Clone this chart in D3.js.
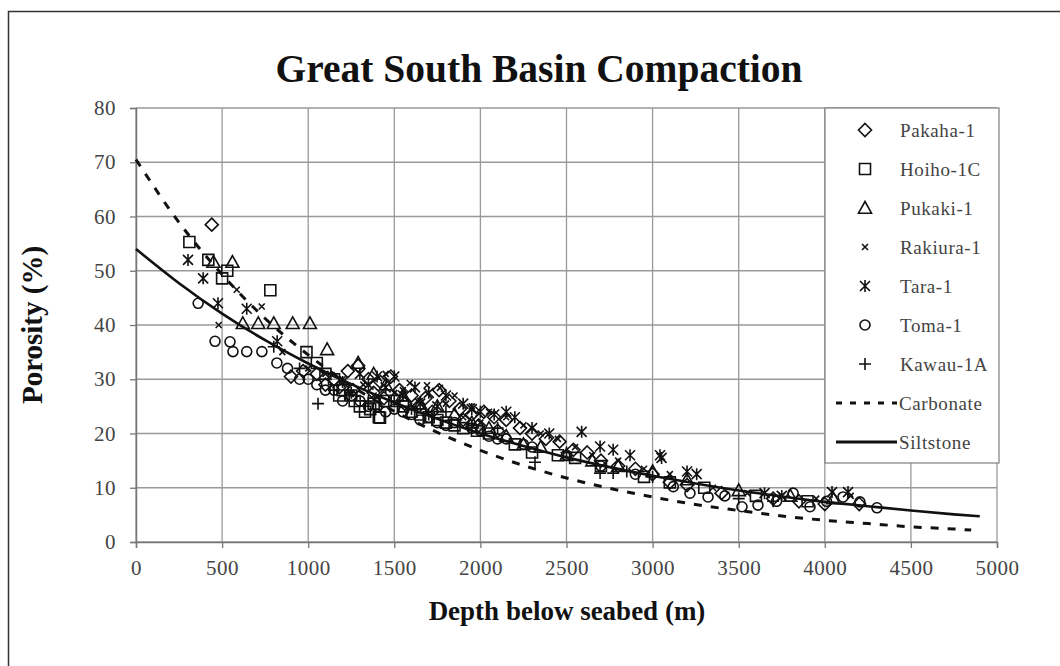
<!DOCTYPE html>
<html>
<head>
<meta charset="utf-8">
<script src="https://cdn.jsdelivr.net/npm/d3@7"></script>
<style>
  body { margin: 0; background: #fff; }
  svg text { font-family: "Liberation Serif", "Times New Roman", Times, serif; }
</style>
</head>
<body>
<script>
// values: [depth (m), porosity (%)]
const pakaha = [[440,58.5],[900,30.5],[970,31.5],[1050,31],[1100,29],[1150,30],[1180,28.5],[1230,31.5],[1260,28],[1290,32.5],[1350,30],
  [1380,27.5],[1420,29.5],[1440,26.5],[1480,30.5],[1530,28],[1560,25.5],[1600,27],[1640,25],[1680,26.5],[1720,24],[1760,28],[1820,26],
  [1880,24.5],[1900,22.5],[1950,23.5],[1990,21.5],[2020,24],[2080,23],[2100,20.5],[2150,22.5],[2230,21],[2300,20],[2380,19],[2460,18.5],
  [2540,17],[2620,16.5],[2700,15],[2800,14],[2900,13.5],[3000,12.5],[3100,11],[3200,10.5],[3400,9],[3700,8],[3850,7.5],[4000,7],[4200,7]];
const hoiho = [[310,55.3],[420,52],[500,48.6],[530,50],[780,46.4],[990,35],[1050,33],[1100,31],[1150,30],[1180,27],[1200,28],[1250,27],
  [1270,26],[1300,25],[1330,24],[1360,24.5],[1380,25.5],[1410,23],[1417,22.9],[1450,26],[1500,26],[1550,25],[1600,24],[1650,23.5],
  [1700,23],[1750,22.5],[1800,22],[1850,21.5],[1900,21],[1980,20.5],[2050,20],[2200,18],[2300,16.5],[2450,16],[2550,15.5],[2700,14],
  [2950,12],[3100,11],[3300,10],[3600,8.5],[3900,7.5]];
const pukaki = [[450,51.6],[560,51.6],[620,40.3],[710,40.3],[800,40.3],[910,40.3],[1010,40.3],[1110,35.5],[1290,33],[1380,31],
  [1450,29],[1550,27],[1650,25.5],[1750,25],[1850,23.5],[1950,22],[2050,21],[2150,19.5],[2250,18],[2350,17.5],[2500,16],
  [2650,15],[2800,14],[3000,13],[3200,11.5],[3500,9.5],[3800,8.5],[4050,8]];
const rakiura = [[480,40],[585,46.5],[730,43.4],[850,35],[1000,32],[1100,31],[1200,30],[1250,27.5],[1320,29],[1380,27],[1450,31],
  [1500,27.5],[1550,28],[1590,29.3],[1650,26],[1690,28.9],[1765,28.4],[1800,25.5],[1850,27],[1900,23],[1950,25],[2000,22],[2050,24],
  [2150,23],[2250,21.5],[2350,20],[2450,19],[2550,17.5],[2650,16],[2800,15],[2950,13.5],[3100,12.5],[3350,10],[3550,9],[3750,8.5],
  [3950,8],[4150,8.5]];
const tara = [[302,52],[390,48.6],[476,44],[643,43],[820,37],[1200,29.5],[1300,31],[1350,29],[1400,30.5],[1450,28.5],[1500,30.5],
  [1550,27],[1620,28.5],[1650,25.5],[1700,27.5],[1750,25],[1800,27],[1900,25.5],[1950,24.5],[2000,24],[2080,23.5],[2150,24],[2200,23],
  [2300,21],[2400,20],[2588,20.3],[2695,17.6],[2771,17],[2869,16],[3043,16],[3052,15.5],[3200,13],[3256,12.5],[3650,9],[3750,8.5],
  [4042,9.2],[4135,9.2]];
const toma = [[361,44],[459,37],[546,36.9],[563,35.1],[643,35.1],[731,35.1],[818,33],[880,32],[950,30],[1000,30],[1050,29],[1100,28],
  [1150,28],[1200,26],[1250,27],[1300,26],[1350,25],[1400,25],[1450,24],[1500,24.5],[1550,24],[1600,23.5],[1650,22.5],[1700,23],
  [1750,22],[1800,21.5],[1850,22],[1950,21],[2000,20.5],[2050,19.5],[2100,19],[2150,19],[2250,18],[2300,17.5],[2500,16],[2700,14],
  [2900,12.5],[3120,10.2],[3217,9],[3322,8.3],[3420,8.5],[3519,6.5],[3612,6.8],[3720,7.5],[3816,9],[3914,6.5],[4010,7.5],[4106,8.3],
  [4204,7.4],[4303,6.3]];
const kawau = [[800,36],[950,32],[1057,25.5],[1150,28],[1250,27.5],[1350,26],[1500,26],[1600,24.5],[1700,23.5],[1800,24],[1950,21.5],
  [2100,21],[2317,14.7],[2500,16.5],[2695,12.7],[2771,12.7],[2850,13],[3000,12],[3500,8],[3700,7.5]];

// trend lines, read at every 250 m
const carbonateDepth = [0,250,500,750,1000,1250,1500,1750,2000,2250,2500,2750,3000,3250,3500,3750,4000,4250,4500,4750,4850];
const carbonatePorosity = [70.5,58.9,49.3,41.2,34.5,28.8,24.1,20.2,16.9,14.1,11.8,9.9,8.3,6.9,5.8,4.8,4.0,3.4,2.8,2.4,2.2];
const siltDepth = [0,250,500,750,1000,1250,1500,1750,2000,2250,2500,2750,3000,3250,3500,3750,4000,4250,4500,4750,4900];
const siltPorosity = [54,47.7,42.1,37.2,32.9,29.1,25.7,22.7,20,17.7,15.6,13.8,12.2,10.8,9.5,8.4,7.4,6.6,5.8,5.1,4.75];

const depthTicks = d3.range(0, 5001, 500);
const porosityTicks = d3.range(0, 81, 10);

const width = 1060, height = 666;
const serif = '"Liberation Serif", "Times New Roman", Times, serif';
const svg = d3.select('body').append('svg')
    .attr('width', width)
    .attr('height', height);

// outer frame
svg.append('rect')
    .attr('x', 8.5).attr('y', 11.5)
    .attr('width', 1070).attr('height', 680)
    .attr('fill', 'none').attr('stroke', '#333').attr('stroke-width', 1.5);

const x = d3.scaleLinear().domain([0, 5000]).range([136, 997]);
const y = d3.scaleLinear().domain([0, 80]).range([542, 108]);

// grid
svg.append('g').selectAll('line').data(depthTicks).join('line')
    .attr('x1', d => x(d)).attr('x2', d => x(d))
    .attr('y1', y(0)).attr('y2', y(80))
    .attr('stroke', '#999').attr('stroke-width', 1.3);
svg.append('g').selectAll('line').data(porosityTicks).join('line')
    .attr('x1', x(0)).attr('x2', x(5000))
    .attr('y1', d => y(d)).attr('y2', d => y(d))
    .attr('stroke', '#999').attr('stroke-width', 1.3);

// axes
const xAxis = svg.append('g')
    .attr('transform', `translate(0,${y(0)})`)
    .call(d3.axisBottom(x).tickValues(depthTicks).tickSize(6).tickPadding(12).tickFormat(d3.format('d')));
const yAxis = svg.append('g')
    .attr('transform', `translate(${x(0)},0)`)
    .call(d3.axisLeft(y).tickValues(porosityTicks).tickSize(6).tickPadding(14).tickFormat(d3.format('d')));
[xAxis, yAxis].forEach(a => {
  a.attr('font-family', serif);
  a.select('.domain').attr('stroke', '#777').attr('stroke-width', 1.5);
  a.selectAll('.tick line').attr('stroke', '#777').attr('stroke-width', 1.3);
  a.selectAll('.tick text')
      .style('font-family', serif)
      .attr('font-size', 21).attr('fill', '#444')
      .style('letter-spacing', '0.5px');
});

// marker shapes
const shapes = {
  diamond: r => `M0,${-r}L${r},0L0,${r}L${-r},0Z`,
  square: r => `M${-r},${-r}h${2 * r}v${2 * r}h${-2 * r}Z`,
  triangle: r => `M0,${-r}L${r},${r * 0.8}L${-r},${r * 0.8}Z`,
  cross: r => `M${-r},${-r}L${r},${r}M${r},${-r}L${-r},${r}`,
  star: r => `M${-r},${-r}L${r},${r}M${r},${-r}L${-r},${r}M0,${-r * 1.2}L0,${r * 1.2}`,
  circle: r => `M${r},0A${r},${r} 0 1,1 ${-r},0A${r},${r} 0 1,1 ${r},0Z`,
  plus: r => `M${-r},0H${r}M0,${-r}V${r}`
};

const series = [
  {name: 'Pakaha-1', data: pakaha, shape: 'diamond', r: 6.5},
  {name: 'Hoiho-1C', data: hoiho, shape: 'square', r: 5.5},
  {name: 'Pukaki-1', data: pukaki, shape: 'triangle', r: 6.5},
  {name: 'Rakiura-1', data: rakiura, shape: 'cross', r: 3},
  {name: 'Tara-1', data: tara, shape: 'star', r: 5},
  {name: 'Toma-1', data: toma, shape: 'circle', r: 5},
  {name: 'Kawau-1A', data: kawau, shape: 'plus', r: 6}
];

series.forEach(s => {
  svg.append('g').selectAll('path').data(s.data).join('path')
      .attr('d', shapes[s.shape](s.r))
      .attr('transform', d => `translate(${x(d[0])},${y(d[1])})`)
      .attr('fill', 'none').attr('stroke', '#111').attr('stroke-width', 1.6);
});

// trend lines
const line = d3.line().x(d => x(d[0])).y(d => y(d[1])).curve(d3.curveMonotoneX);
svg.append('path')
    .datum(carbonateDepth.map((d, i) => [d, carbonatePorosity[i]]))
    .attr('d', line)
    .attr('fill', 'none').attr('stroke', '#111').attr('stroke-width', 3)
    .attr('stroke-dasharray', '8,9');
svg.append('path')
    .datum(siltDepth.map((d, i) => [d, siltPorosity[i]]))
    .attr('d', line)
    .attr('fill', 'none').attr('stroke', '#111').attr('stroke-width', 2.6);

// legend
const legend = svg.append('g');
legend.append('rect')
    .attr('x', 825).attr('y', 108).attr('width', 174).attr('height', 355)
    .attr('fill', '#fff').attr('stroke', '#888').attr('stroke-width', 1.3);
const legendItems = series.map(s => ({name: s.name, shape: s.shape, r: s.r}))
    .concat([{name: 'Carbonate', dash: '6,8'}, {name: 'Siltstone', dash: null}]);
const rows = legend.selectAll('g').data(legendItems).join('g')
    .attr('transform', (d, i) => `translate(0,${130 + i * 39})`);
rows.filter(d => d.shape).append('path')
    .attr('d', d => shapes[d.shape](d.r))
    .attr('transform', 'translate(865,0)')
    .attr('fill', 'none').attr('stroke', '#111').attr('stroke-width', 1.6);
rows.filter(d => !d.shape).append('line')
    .attr('x1', 836).attr('x2', 897).attr('y1', 0).attr('y2', 0)
    .attr('stroke', '#111').attr('stroke-width', 3)
    .attr('stroke-dasharray', d => d.dash);
rows.append('text')
    .attr('x', d => d.shape ? 900 : 899).attr('y', 0).attr('dy', '0.35em')
    .style('font-family', serif)
    .style('letter-spacing', '0.6px')
    .attr('font-size', 19).attr('fill', '#444')
    .text(d => d.name);

// titles
svg.append('text')
    .attr('x', 539).attr('y', 82)
    .attr('text-anchor', 'middle')
    .style('font-family', serif)
    .attr('font-size', 39.5).attr('font-weight', 'bold').attr('fill', '#111')
    .text('Great South Basin Compaction');
svg.append('text')
    .attr('x', 567).attr('y', 620)
    .attr('text-anchor', 'middle')
    .style('font-family', serif)
    .attr('font-size', 27).attr('font-weight', 'bold').attr('fill', '#111')
    .text('Depth below seabed (m)');
svg.append('text')
    .attr('transform', 'translate(42,325) rotate(-90)')
    .attr('text-anchor', 'middle')
    .style('font-family', serif)
    .attr('font-size', 29).attr('font-weight', 'bold').attr('fill', '#111')
    .text('Porosity (%)');
</script>
</body>
</html>
